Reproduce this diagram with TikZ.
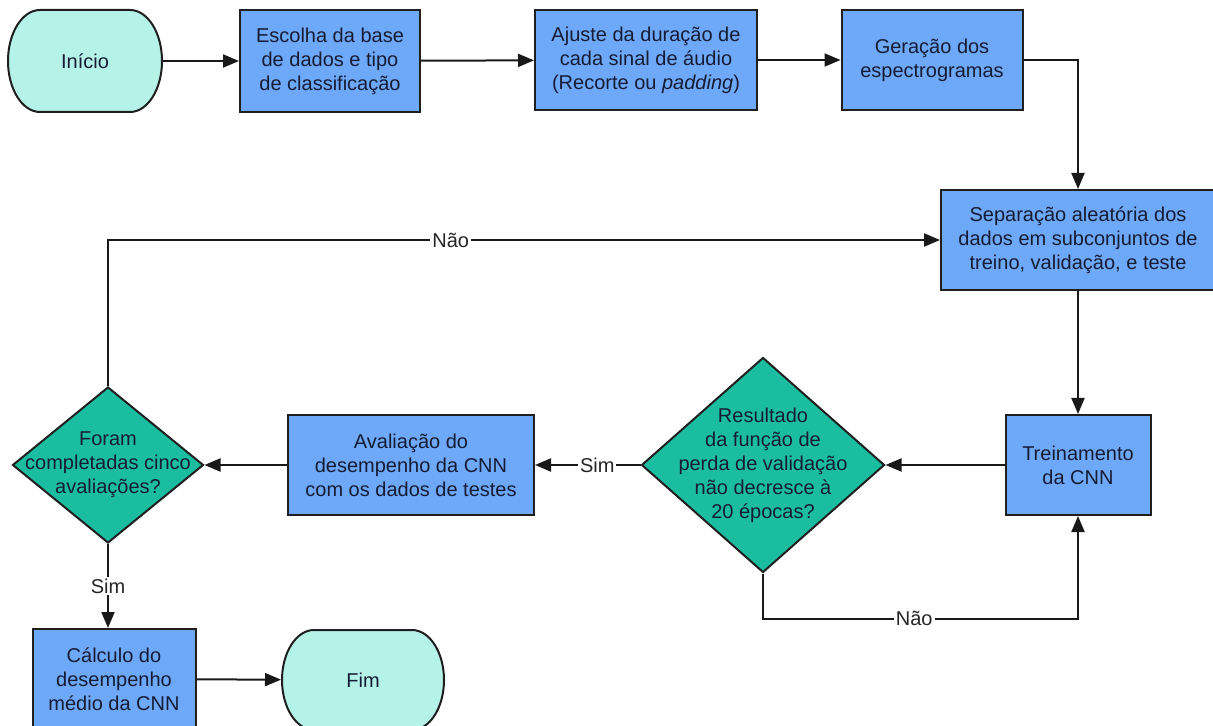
\documentclass[tikz,border=0pt]{standalone}
\usepackage{fontspec}
\setmainfont{Liberation Sans}
\usepackage{tikz}
\usetikzlibrary{arrows.meta, positioning, shapes.geometric, calc}
\definecolor{procblue}{RGB}{110,168,249}
\definecolor{termcyan}{RGB}{181,243,232}
\definecolor{decteal}{RGB}{26,189,160}
\definecolor{inktext}{RGB}{22,28,52}
% terminal outline with elliptic ends: centre, half width, half height
\newcommand{\drawterm}[3]{
    \begin{scope}[shift={(#1)}]
        \draw[draw=black!88, line width=1pt, fill=termcyan]
            (-#2+16pt,#3) -- (#2-16pt,#3)
            arc[start angle=90, end angle=-90, x radius=16pt, y radius=#3]
            -- (-#2+16pt,-#3)
            arc[start angle=270, end angle=90, x radius=16pt, y radius=#3]
            -- cycle;
    \end{scope}
}

\begin{document}
\begin{tikzpicture}[x=0.5pt, y=-0.5pt,
    base/.style={draw=black!88, line width=1pt, align=center, inner sep=2pt,
        text=inktext, font=\fontsize{10}{12}\selectfont},
    proc/.style={base, rectangle, fill=procblue},
    term/.style={base, rectangle, draw=none},
    decision/.style={base, diamond, fill=decteal, inner sep=0pt},
    flow/.style={-{Triangle[length=8pt, width=6.5pt]}, line width=1pt, black!90},
    lbl/.style={fill=white, inner sep=1pt, text=black!85, font=\fontsize{10}{12}\selectfont}
]
\useasboundingbox (0,0) rectangle (1213,726);

% Top row
\drawterm{85,61}{38.5pt}{25.5pt}
\node[term, minimum width=77pt, minimum height=51pt] (inicio) at (85,61) {Início};
\node[proc, minimum width=90pt, minimum height=51pt] (escolha) at (330,61) {Escolha da base\\de dados e tipo\\de classificação};
\node[proc, minimum width=111pt, minimum height=50pt] (ajuste) at (646,60) {Ajuste da duração de\\cada sinal de áudio\\(Recorte ou \textit{padding})};
\node[proc, minimum width=90.5pt, minimum height=50pt] (geracao) at (932,60) {Geração dos\\espectrogramas};

% Right column
\node[proc, minimum width=137pt, minimum height=50pt] (separacao) at (1078,240) {Separação aleatória dos\\dados em subconjuntos de\\treino, validação, e teste};
\node[proc, minimum width=72.5pt, minimum height=50pt] (treino) at (1078,465) {Treinamento\\da CNN};

% Middle row
\node[decision, minimum width=121.5pt, minimum height=107.5pt,
    label={[base, draw=none]center:Resultado\\da função de\\perda de validação\\não decresce à\\20 épocas?}] (resultado) at (763,465) {};
\node[proc, minimum width=123pt, minimum height=50pt] (avaliacao) at (411,465) {Avaliação do\\desempenho da CNN\\com os dados de testes};
\node[decision, minimum width=95.5pt, minimum height=78pt,
    label={[base, draw=none]center:Foram\\completadas cinco\\avaliações?}] (foram) at (108,465) {};

% Bottom row
\node[proc, minimum width=81.5pt, minimum height=50pt] (calculo) at (114,679) {Cálculo do\\desempenho\\médio da CNN};
\drawterm{363,680}{40.5pt}{25pt}
\node[term, minimum width=81pt, minimum height=50pt] (fim) at (363,680) {Fim};

% Connectors
\draw[flow] (inicio) -- (escolha);
\draw[flow] (escolha) -- (ajuste);
\draw[flow] (ajuste) -- (geracao);
\draw[flow] (geracao.east) -| (separacao.north);
\draw[flow] (separacao) -- (treino);
\draw[flow] (treino) -- (resultado);
\draw[flow] (resultado.west) -- node[lbl, pos=0.41] {Sim} (avaliacao.east);
\draw[flow] (avaliacao) -- (foram);
\draw[flow] (foram.north) |- node[lbl, pos=0.706] {Não} (separacao.west);
\draw[flow] (resultado.south) -- ++(0,45) -| node[lbl, pos=0.24] {Não} (treino.south);
\draw[flow] (foram.south) -- node[lbl] {Sim} (foram.south |- calculo.north);
\draw[flow] (calculo) -- (fim);

\end{tikzpicture}
\end{document}
